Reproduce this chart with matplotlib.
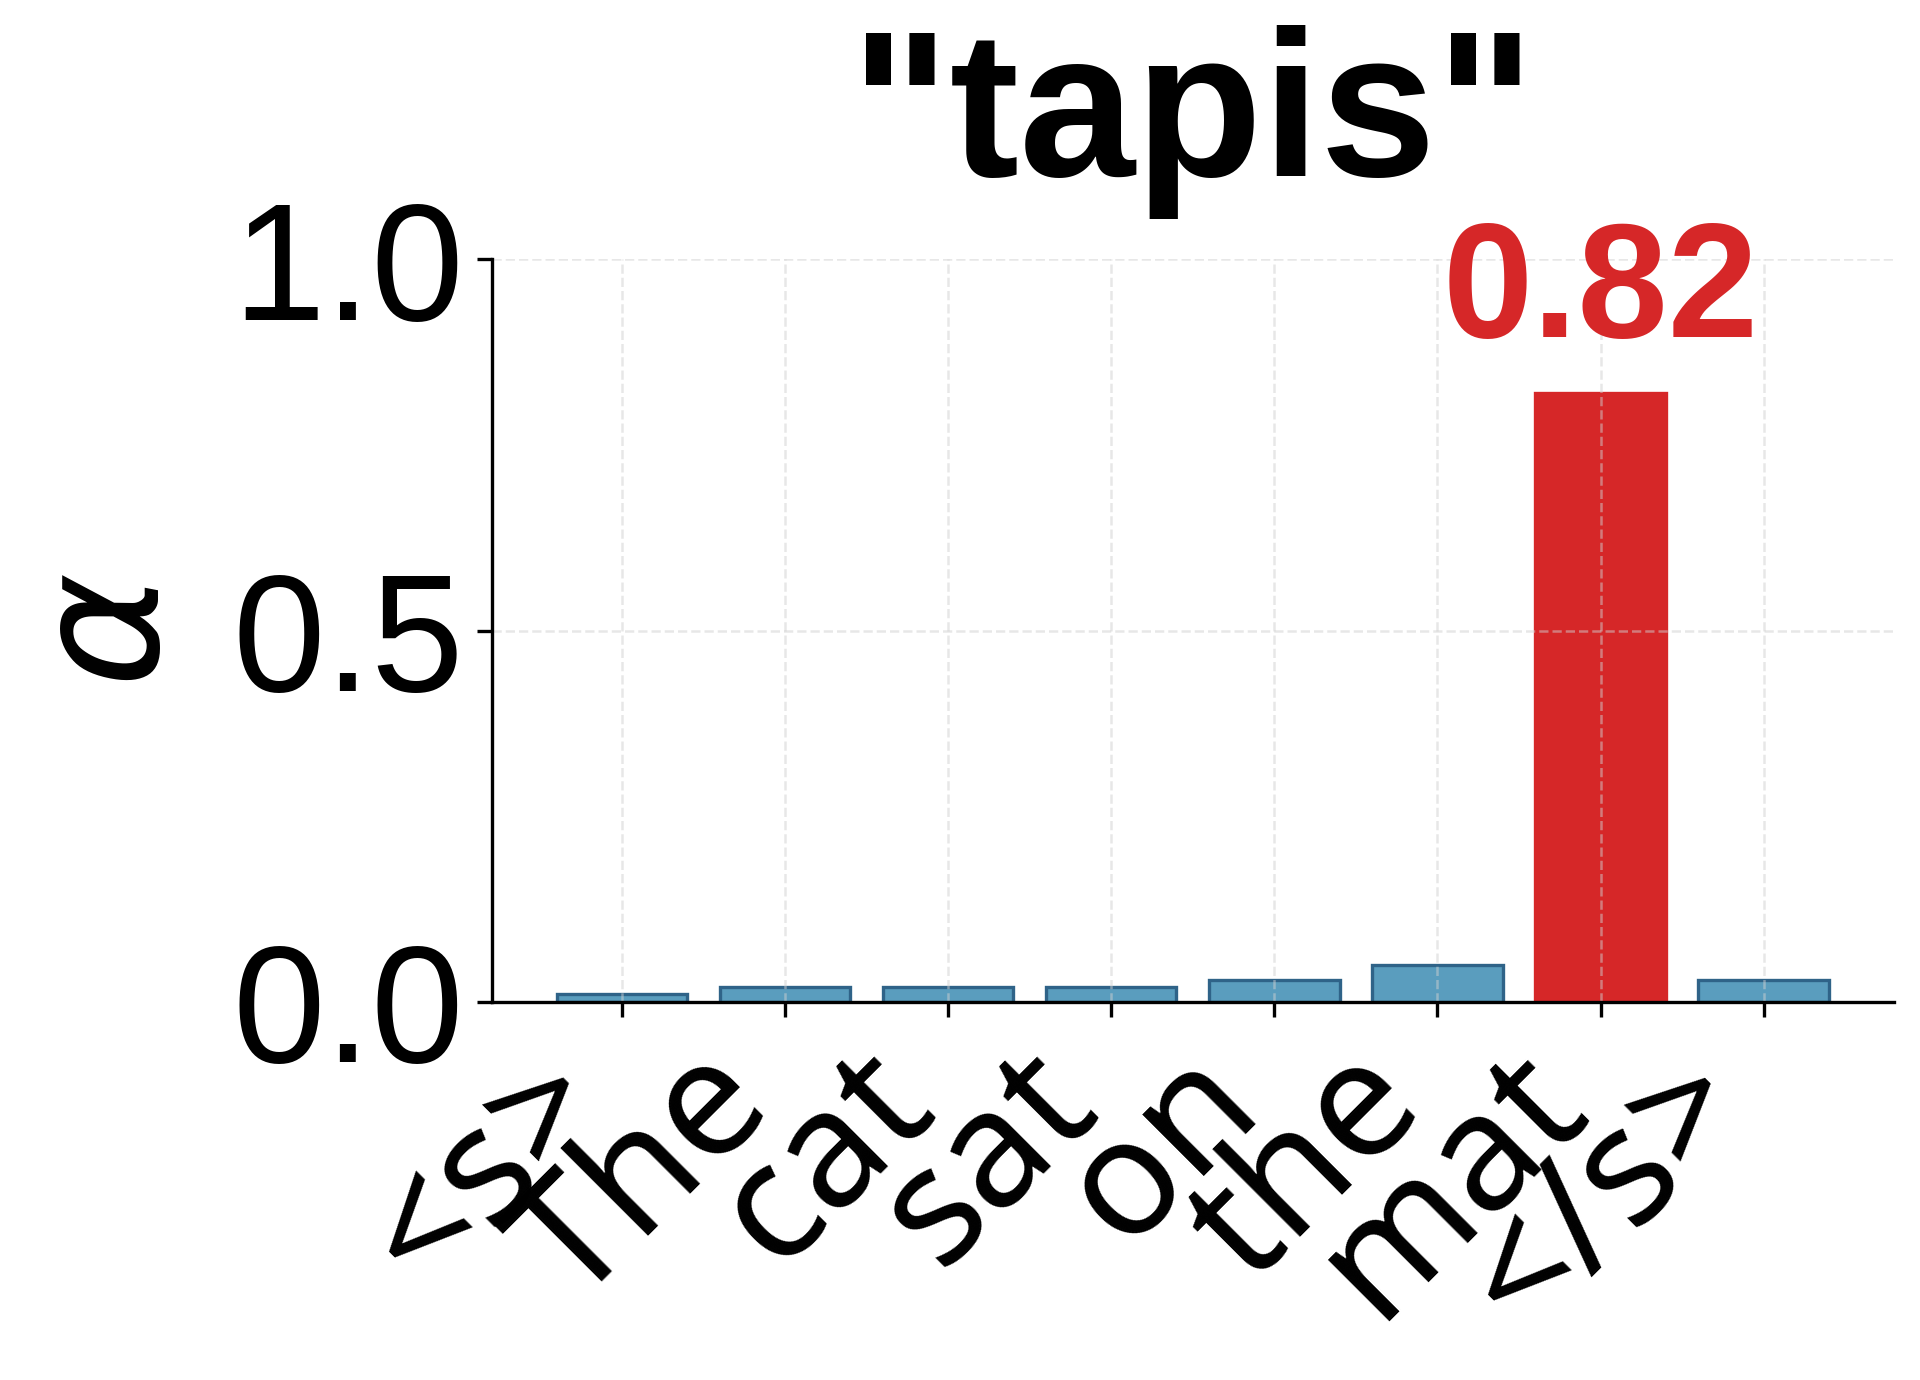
import matplotlib
matplotlib.use("Agg")
from matplotlib import pyplot as plt
from matplotlib.transforms import ScaledTranslation

# attention weights for the target word "tapis"
tokens = ["<s>", "The", "cat", "sat", "on", "the", "mat", "</s>"]
weights = [0.01, 0.02, 0.02, 0.02, 0.03, 0.05, 0.82, 0.03]
target_word = '"tapis"'
peak_index = 6

BLUE = "#5a9dbe"
BLUE_EDGE = "#2f6388"
RED = "#d62728"

plt.rcParams["font.family"] = ["Liberation Sans", "DejaVu Sans"]

fig = plt.figure(figsize=(6.4, 4.6), dpi=300)
ax = fig.add_axes([0.256, 0.274, 0.7305, 0.538])

x = list(range(len(tokens)))
colors = [RED if i == peak_index else BLUE for i in x]
edges = [RED if i == peak_index else BLUE_EDGE for i in x]
ax.bar(x, weights, width=0.8, color=colors, edgecolor=edges, linewidth=0.8)

v = weights[peak_index]
ax.text(peak_index, v + 0.03, f"{v:.2f}", ha="center", va="bottom",
        fontsize=39, fontweight="bold", color=RED, clip_on=False)

ax.set_xlim(-0.8, len(tokens) - 0.2)
ax.set_ylim(0, 1.0)
ax.set_yticks([0.0, 0.5, 1.0])
ax.set_xticks(x)
ax.tick_params(axis="y", labelsize=40, pad=3)
ax.tick_params(axis="x", pad=1)
ax.set_xticklabels(tokens, rotation=45, ha="right", fontsize=39,
                   family=["Noto Sans", "DejaVu Sans"])
# nudge rotated labels a little to the right (after tick_params, which resets transforms)
shift = ScaledTranslation(4 / 72, 0, fig.dpi_scale_trans)
for lbl in ax.get_xticklabels():
    lbl.set_transform(lbl.get_transform() + shift)
ax.set_ylabel(r"$\alpha$", fontsize=42, labelpad=9)
ax.set_title(target_word, fontsize=50, fontweight="bold", pad=20)

ax.grid(True, linestyle="--", color="#d0d0d0", linewidth=0.6, alpha=0.5)
ax.spines["top"].set_visible(False)
ax.spines["right"].set_visible(False)

fig.savefig("out.png", dpi=300)
